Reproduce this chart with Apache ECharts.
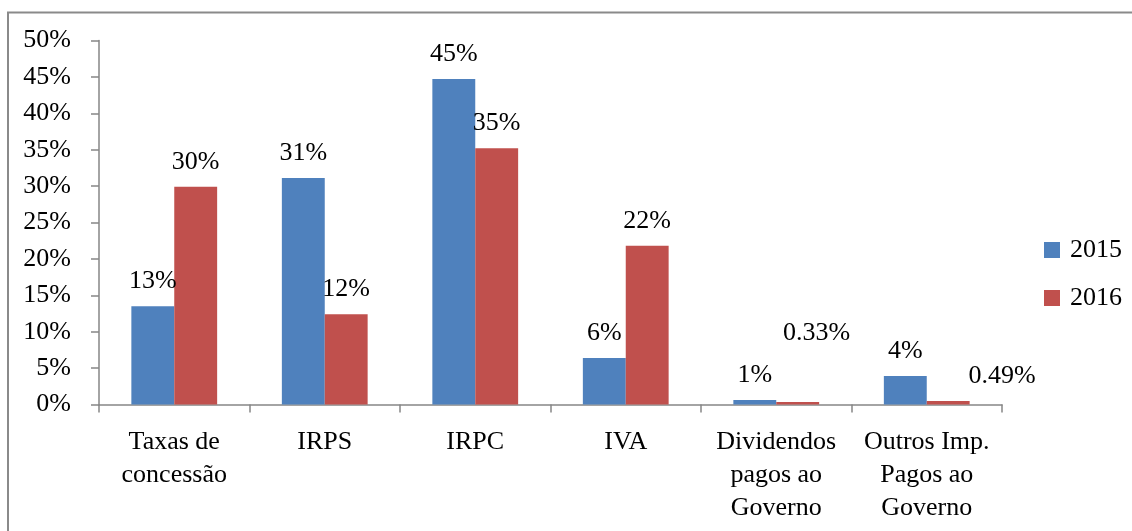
<!DOCTYPE html>
<html>
<head>
<meta charset="utf-8">
<script src="https://cdn.jsdelivr.net/npm/echarts@6/dist/echarts.min.js"></script>
<style>
  html, body { margin: 0; padding: 0; background: #fff; }
  #main { width: 1132px; height: 531px; }
</style>
</head>
<body>
<div id="main"></div>
<script>
// categories and values (percent)
var categories = ['Taxas de\nconcessão', 'IRPS', 'IRPC', 'IVA', 'Dividendos\npagos ao\nGoverno', 'Outros Imp.\nPagos ao\nGoverno'];
var values2015 = [13.5, 31.1, 44.7, 6.4, 0.62, 3.9];
var values2016 = [29.9, 12.4, 35.2, 21.8, 0.33, 0.49];
var labels2015 = ['13%', '31%', '45%', '6%', '1%', '4%'];
var labels2016 = ['30%', '12%', '35%', '22%', '0.33%', '0.49%'];
var yTicks = [0, 5, 10, 15, 20, 25, 30, 35, 40, 45, 50];

var font = 'Liberation Serif';
var fs = 26;
var axisGray = '#868686';

// labels that were dragged away from their bars in the original
var offsets2016 = { 4: [19, -44], 5: [54, 0] };

function buildData(vals, labels, offsets) {
    return vals.map(function (v, i) {
        var item = { value: v, label: { formatter: labels[i] } };
        if (offsets && offsets[i]) item.label.offset = offsets[i];
        return item;
    });
}

var chartDom = document.getElementById('main');
var myChart = echarts.init(chartDom);
var option;

var labelStyle = {
    show: true,
    position: 'top',
    distance: 12,
    fontFamily: font,
    fontSize: fs,
    color: '#000'
};

option = {
    animation: false,
    textStyle: { fontFamily: font },
    graphic: [{
        type: 'rect',
        shape: { x: 8, y: 12.5, width: 1200, height: 600 },
        style: { fill: 'none', stroke: '#8a8a8a', lineWidth: 2 },
        silent: true
    }],
    grid: {
        left: 99,
        right: 130,
        top: 40.5,
        bottom: 126.5
    },
    legend: {
        orient: 'vertical',
        left: 1044,
        top: 237,
        padding: 0,
        itemWidth: 16,
        itemHeight: 16,
        itemGap: 22,
        icon: 'rect',
        textStyle: { fontFamily: font, fontSize: fs, color: '#000', padding: [0, 0, 0, 5] },
        data: ['2015', '2016']
    },
    xAxis: {
        type: 'category',
        data: categories,
        axisLine: { lineStyle: { color: axisGray, width: 1.5 } },
        axisTick: { show: true, length: 8, lineStyle: { color: axisGray, width: 1.5 } },
        axisLabel: {
            interval: 0,
            margin: 21,
            fontFamily: font,
            fontSize: fs,
            lineHeight: 33,
            color: '#000',
            align: 'center'
        }
    },
    yAxis: {
        type: 'value',
        min: yTicks[0],
        max: yTicks[yTicks.length - 1],
        interval: 5,
        splitLine: { show: false },
        axisLine: { show: true, lineStyle: { color: axisGray, width: 1.5 } },
        axisTick: { show: true, length: 8, lineStyle: { color: axisGray, width: 1.5 } },
        axisLabel: {
            formatter: '{value}%',
            margin: 28,
            fontFamily: font,
            fontSize: fs,
            color: '#000'
        }
    },
    series: [{
        name: '2015',
        type: 'bar',
        barGap: '0%',
        barCategoryGap: '43%',
        itemStyle: { color: '#4F81BD' },
        label: labelStyle,
        data: buildData(values2015, labels2015)
    }, {
        name: '2016',
        type: 'bar',
        itemStyle: { color: '#C0504D' },
        label: labelStyle,
        data: buildData(values2016, labels2016, offsets2016)
    }]
};

myChart.setOption(option);
</script>
</body>
</html>
